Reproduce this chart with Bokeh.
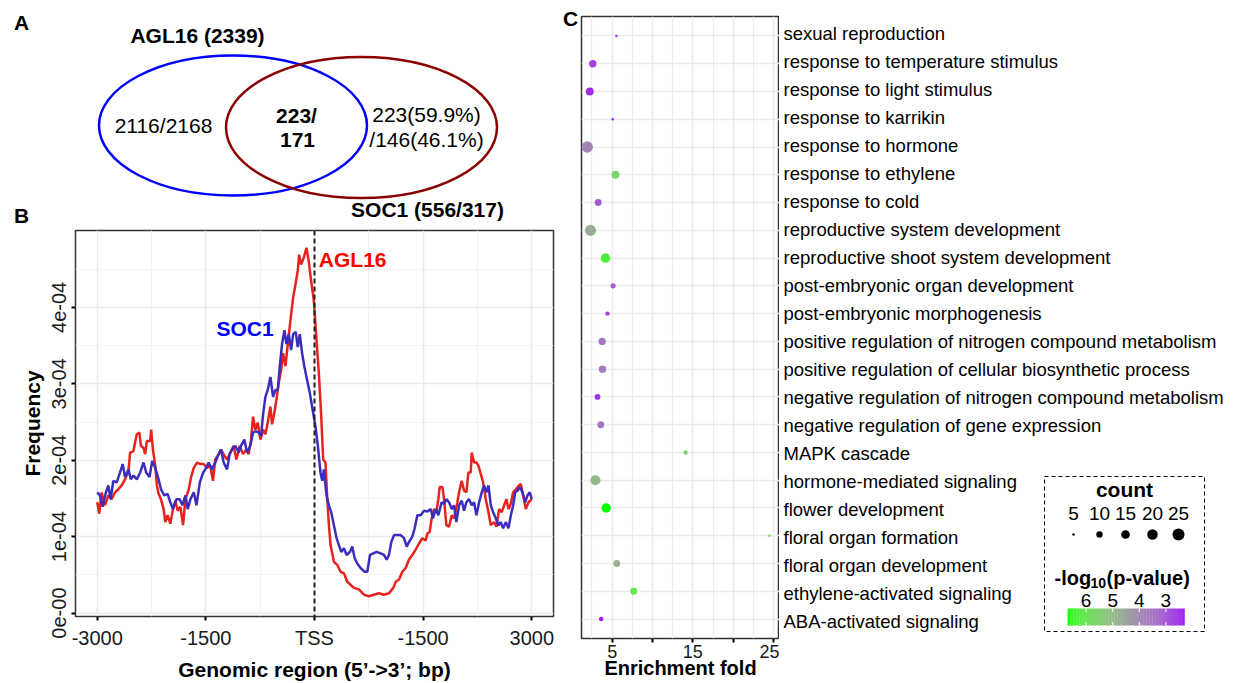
import numpy as np
from bokeh.plotting import figure
from bokeh.layouts import row, column
from bokeh.models import (Range1d, FactorRange, FixedTicker, CustomJSTickFormatter,
                          Span, ColumnDataSource, LinearColorMapper)
from bokeh.transform import transform
from bokeh.core.properties import value
from bokeh.embed import file_html
from bokeh.resources import INLINE

FONT = "Liberation Sans"

# ---------------- Panel A data (Venn) ----------------
venn_set_labels = ["AGL16 (2339)", "SOC1 (556/317)"]
venn_only_agl16 = ["2116/2168"]
venn_shared = ["223/", "171"]
venn_only_soc1 = ["223(59.9%)", "/146(46.1%)"]

# ---------------- Panel B data (frequency profiles, units of 1e-4) ----------------
agl16_x = [-3000, -2972, -2940, -2894, -2847, -2801, -2755, -2708, -2662, -2616,
           -2569, -2546, -2500, -2454, -2417, -2398, -2361, -2338, -2315, -2268,
           -2255, -2231, -2199, -2176, -2153, -2120, -2083, -2060, -2028, -1991,
           -1954, -1921, -1889, -1852, -1815, -1782, -1736, -1704, -1667, -1620,
           -1574,
           -1531, -1485, -1439, -1402, -1370, -1323, -1291, -1245, -1208, -1162,
           -1116, -1079, -1033, -987, -941, -909, -876, -849, -816, -784,
           -747, -710, -678, -646, -609, -586, -554, -526, -494, -461,
           -434, -401, -369, -332, -295, -263, -231, -212, -185, -148,
           -111, -79, -47,
           -9, 28, 60, 93, 120, 152, 176, 199, 222, 268,
           314, 360, 406, 452, 498, 544, 613, 683, 752, 821,
           890, 959, 1028, 1088, 1121, 1167, 1213, 1259, 1305, 1351,
           1397, 1443, 1489,
           1535, 1558, 1590, 1618, 1650, 1683, 1710, 1729, 1766, 1789,
           1821, 1858, 1895, 1927, 1973, 1996, 2033, 2065, 2097, 2125,
           2157, 2171, 2203, 2236, 2263, 2296, 2328, 2365, 2402, 2434,
           2480, 2512, 2549, 2586, 2618, 2651, 2678, 2711, 2743, 2780,
           2826, 2849, 2881, 2918, 2955, 3000]
agl16_freq = [1.45, 1.30, 1.58, 1.41, 1.54, 1.49, 1.58, 1.62, 1.67, 1.75,
              1.86, 2.10, 2.12, 2.34, 2.36, 2.19, 2.16, 2.08, 2.25, 2.25,
              2.40, 2.14, 1.93, 1.67, 1.56, 1.49, 1.36, 1.19, 1.28, 1.17,
              1.36, 1.47, 1.34, 1.39, 1.15, 1.49, 1.62, 1.78, 1.90, 1.97,
              1.95,
              1.95, 1.90, 1.93, 1.73, 2.01, 2.08, 2.14, 2.06, 2.01, 2.10,
              2.19, 2.01, 2.19, 2.08, 2.14, 2.08, 2.27, 2.57, 2.40, 2.49,
              2.27, 2.40, 2.34, 2.49, 2.70, 2.47, 2.62, 2.79, 3.01, 3.18,
              3.40, 3.23, 3.52, 3.83, 4.13, 4.30, 4.48, 4.69, 4.56, 4.65,
              4.78, 4.60, 4.35,
              4.09, 3.57, 3.14, 2.57, 2.01, 1.97, 1.49, 1.15, 0.89, 0.67,
              0.63, 0.54, 0.52, 0.41, 0.37, 0.33, 0.31, 0.24, 0.22, 0.24,
              0.26, 0.24, 0.26, 0.33, 0.41, 0.44, 0.54, 0.59, 0.70, 0.76,
              0.83, 0.91, 0.98,
              0.95, 1.04, 1.06, 1.24, 1.36, 1.32, 1.49, 1.65, 1.65, 1.49,
              1.15, 1.13, 1.28, 1.24, 1.45, 1.58, 1.73, 1.60, 1.58, 1.84,
              1.84, 2.10, 1.97, 1.97, 1.93, 1.82, 1.71, 1.49, 1.32, 1.15,
              1.19, 1.13, 1.36, 1.32, 1.41, 1.49, 1.36, 1.43, 1.58, 1.62,
              1.67, 1.69, 1.54, 1.36, 1.45, 1.49]

soc1_x = [-3000, -2963, -2926, -2880, -2847, -2815, -2778, -2731, -2685, -2648,
          -2616, -2569, -2537, -2500, -2454, -2407, -2361, -2324, -2278, -2241,
          -2199, -2153, -2120, -2074, -2028, -1991, -1954, -1907, -1861, -1824,
          -1782, -1750, -1713, -1667, -1630, -1583, -1537,
          -1508, -1462, -1416, -1370, -1323, -1291, -1254, -1208, -1171, -1139,
          -1093, -1047, -1015, -968, -932, -886, -849, -816, -770, -738,
          -710, -678, -646, -609, -572, -540, -507, -480, -448, -415,
          -388, -355, -323, -295, -259, -231, -203, -171, -139, -102,
          -65, -33,
          14, 46, 83, 106, 129, 166, 199, 231, 268, 305,
          337, 369, 406, 443, 489, 521, 554, 590, 637, 692,
          729, 766, 812, 858, 913, 959, 996, 1028, 1061, 1098,
          1144, 1190, 1236, 1273, 1305, 1351, 1383, 1420, 1466, 1512,
          1559, 1604, 1636, 1673, 1710, 1756, 1789, 1821, 1858, 1895,
          1927, 1959, 1996, 2033, 2065, 2097, 2134, 2171, 2203, 2236,
          2273, 2309, 2342, 2374, 2402, 2434, 2466, 2503, 2540, 2572,
          2605, 2641, 2678, 2711, 2743, 2771, 2803, 2835, 2872, 2909,
          2941, 2973, 3000]
soc1_freq = [1.58, 1.54, 1.39, 1.58, 1.67, 1.49, 1.73, 1.71, 1.84, 1.95,
             1.78, 1.88, 1.75, 1.80, 1.75, 1.84, 1.97, 1.84, 1.78, 1.99,
             1.90, 1.75, 1.62, 1.54, 1.56, 1.45, 1.36, 1.49, 1.49, 1.41,
             1.54, 1.36, 1.49, 1.58, 1.41, 1.71, 1.84,
             1.88, 1.97, 1.88, 1.97, 2.08, 2.14, 1.97, 1.88, 2.08, 2.14,
             2.19, 2.10, 2.19, 2.27, 2.10, 2.19, 2.36, 2.38, 2.36, 2.32,
             2.60, 2.83, 2.92, 3.09, 2.83, 2.92, 2.92, 3.22, 3.52, 3.70,
             3.52, 3.65, 3.44, 3.65, 3.68, 3.48, 3.65, 3.40, 3.22, 3.05,
             2.88, 2.70,
             2.44, 2.19, 1.84, 1.73, 1.88, 1.54, 1.41, 1.32, 1.15, 0.98,
             0.89, 0.80, 0.85, 0.76, 0.80, 0.87, 0.72, 0.65, 0.59, 0.54,
             0.54, 0.76, 0.78, 0.80, 0.78, 0.76, 0.70, 0.76, 0.93, 1.02,
             1.02, 1.02, 0.98, 0.87, 0.93, 1.00, 1.11, 1.28, 1.28, 1.34,
             1.33, 1.36, 1.24, 1.36, 1.28, 1.45, 1.43, 1.49, 1.45, 1.36,
             1.41, 1.19, 1.41, 1.47, 1.34, 1.45, 1.49, 1.41, 1.45, 1.28,
             1.45, 1.58, 1.67, 1.58, 1.67, 1.41, 1.32, 1.24, 1.15, 1.19,
             1.11, 1.19, 1.11, 1.28, 1.41, 1.58, 1.60, 1.65, 1.58, 1.45,
             1.54, 1.58, 1.49]
FREQ_UNIT = 1e-4

b_xticks = [-3000, -1500, 0, 1500, 3000]
b_xtick_labels = ["-3000", "-1500", "TSS", "-1500", "3000"]
b_xminor = [-2250, -750, 750, 2250]
b_yticks = [0.0, 1e-4, 2e-4, 3e-4, 4e-4]
b_ytick_labels = ["0e-00", "1e-04", "2e-04", "3e-04", "4e-04"]
b_yminor = [0.5e-4, 1.5e-4, 2.5e-4, 3.5e-4, 4.5e-4]

# ---------------- Panel C data (GO enrichment) ----------------
go_terms = ["sexual reproduction",
            "response to temperature stimulus",
            "response to light stimulus",
            "response to karrikin",
            "response to hormone",
            "response to ethylene",
            "response to cold",
            "reproductive system development",
            "reproductive shoot system development",
            "post-embryonic organ development",
            "post-embryonic morphogenesis",
            "positive regulation of nitrogen compound metabolism",
            "positive regulation of cellular biosynthetic process",
            "negative regulation of nitrogen compound metabolism",
            "negative regulation of gene expression",
            "MAPK cascade",
            "hormone-mediated signaling",
            "flower development",
            "floral organ formation",
            "floral organ development",
            "ethylene-activated signaling",
            "ABA-activated signaling"]
go_enrichment = [5.53, 2.60, 2.23, 5.07, 1.91, 5.41, 3.27, 2.31, 4.17, 5.12, 4.42,
                 3.76, 3.80, 3.18, 3.59, 14.1, 2.93, 4.26, 24.5, 5.57, 7.67, 3.64]
go_count = [5, 12, 13, 5, 23, 13, 11, 22, 17, 8, 7,
            12, 12, 9, 11, 7, 19, 17, 5, 11, 11, 7]
go_neglogp = [2.5, 2.6, 2.4, 2.4, 3.8, 5.7, 3.0, 4.7, 6.4, 3.1, 2.7,
              3.6, 3.6, 2.5, 3.5, 5.6, 5.0, 6.7, 5.4, 4.8, 6.1, 2.3]
c_xticks = [5, 10, 15, 20, 25]
c_xminor = [2.5, 7.5, 12.5, 17.5, 22.5]
count_breaks = [5, 10, 15, 20, 25]
p_breaks = [6, 5, 4, 3]


# ---------------- helpers (styling) ----------------
def _hex2rgb(h):
    return np.array([int(h[i:i + 2], 16) for i in (1, 3, 5)], dtype=float) / 255.0


_M = np.array([[0.4124564, 0.3575761, 0.1804375],
               [0.2126729, 0.7151522, 0.0721750],
               [0.0193339, 0.1191920, 0.9503041]])
_W = np.array([0.95047, 1.0, 1.08883])


def _to_lab(h):
    c = _hex2rgb(h)
    lin = np.where(c <= 0.04045, c / 12.92, ((c + 0.055) / 1.055) ** 2.4)
    xyz = (_M @ lin) / _W
    d = 6 / 29
    f = np.where(xyz > d ** 3, np.cbrt(xyz), xyz / (3 * d * d) + 4 / 29)
    return np.array([116 * f[1] - 16, 500 * (f[0] - f[1]), 200 * (f[1] - f[2])])


def _from_lab(lab):
    L, a, b = lab
    fy = (L + 16) / 116
    f = np.array([fy + a / 500, fy, fy - b / 200])
    d = 6 / 29
    xyz = np.where(f > d, f ** 3, 3 * d * d * (f - 4 / 29)) * _W
    lin = np.clip(np.linalg.solve(_M, xyz), 0, 1)
    c = np.where(lin <= 0.0031308, 12.92 * lin, 1.055 * lin ** (1 / 2.4) - 0.055)
    c = np.clip(c, 0, 1)
    return "#%02x%02x%02x" % tuple(int(round(v * 255)) for v in c)


_lab_lo, _lab_hi = _to_lab("#A020F0"), _to_lab("#00FF00")
palette = [_from_lab(_lab_lo + (_lab_hi - _lab_lo) * t) for t in np.linspace(0, 1, 256)]
p_lo, p_hi = min(go_neglogp), max(go_neglogp)
mapper = LinearColorMapper(palette=palette, low=p_lo, high=p_hi)


def dot_size(c):
    return np.sqrt(np.maximum(6.89 * np.asarray(c, dtype=float) - 28.2, 4.0))


def style_axis(ax, label_size, title_size):
    ax.axis_line_color = None
    ax.major_tick_line_color = "black"
    ax.major_tick_line_width = 2
    ax.major_tick_in = 0
    ax.major_tick_out = 4
    ax.minor_tick_line_color = None
    ax.major_label_text_font = FONT
    ax.major_label_text_font_size = label_size
    ax.major_label_text_color = "#1a1a1a"
    ax.axis_label_text_font = FONT
    ax.axis_label_text_font_size = title_size
    ax.axis_label_text_font_style = "bold"
    ax.axis_label_text_color = "black"


def txt(p, x, y, s, size, bold=False, color="black", align="center", **kw):
    p.text(x=x, y=y, text=s, text_font=value(FONT), text_font_size=size,
           text_font_style="bold" if bold else "normal", text_color=color,
           text_align=align, text_baseline="middle", **kw)


def no_align(p):
    if "frame_align" in p.properties():
        p.frame_align = False


# ---------------- Panel A ----------------
pA = figure(width=578, height=226, x_range=Range1d(0, 578), y_range=Range1d(226, 0),
            x_axis_type=None, y_axis_type=None, min_border=0,
            output_backend="svg", toolbar_location=None)
pA.outline_line_color = None
no_align(pA)
pA.ellipse(x=[232.5, 361], y=[125, 127], width=[268, 271], height=[140, 141],
           fill_color=None, line_color=["#0000ff", "#8b0000"], line_width=2.5)
txt(pA, [21], [22], ["A"], "21px", bold=True)
txt(pA, [21], [215], ["B"], "21px", bold=True)
txt(pA, [570], [18], ["C"], "21px", bold=True)
txt(pA, [197, 427], [35, 209], venn_set_labels, "21px", bold=True)
txt(pA, [163], [125], venn_only_agl16, "21px")
txt(pA, [296, 297], [115, 139], venn_shared, "21px", bold=True)
txt(pA, [426, 426], [114, 139], venn_only_soc1, "21px")

# ---------------- Panel B ----------------
pB = figure(width=578, height=457, x_range=Range1d(-3300, 3300),
            y_range=Range1d(-0.045e-4, 5.006e-4),
            min_border_left=75, min_border_right=25, min_border_top=4, min_border_bottom=63,
            output_backend="svg", toolbar_location=None)
no_align(pB)
pB.outline_line_color = "#333333"
pB.outline_line_width = 1.5
xt = FixedTicker(ticks=b_xticks, minor_ticks=b_xminor)
yt = FixedTicker(ticks=b_yticks, minor_ticks=b_yminor)
pB.xaxis.ticker = xt
pB.yaxis.ticker = yt
pB.xgrid.ticker = xt
pB.ygrid.ticker = yt
pB.xaxis.major_label_overrides = dict(zip(b_xticks, b_xtick_labels))
pB.yaxis.formatter = CustomJSTickFormatter(
    args=dict(labels=b_ytick_labels),
    code="const i = Math.round(tick * 1e4); return (i >= 0 && i < labels.length) ? labels[i] : '';")
for g in (pB.xgrid[0], pB.ygrid[0]):
    g.grid_line_color = "#ebebeb"
    g.grid_line_width = 1.5
    g.minor_grid_line_color = "#f3f3f3"
    g.minor_grid_line_width = 1
style_axis(pB.xaxis[0], "20px", "21px")
style_axis(pB.yaxis[0], "20px", "21px")
pB.xaxis.axis_label = "Genomic region (5\u2019->3\u2019; bp)"
pB.yaxis.axis_label = "Frequency"
pB.yaxis.major_label_orientation = "vertical"
pB.xaxis.major_label_standoff = 6
pB.yaxis.major_label_standoff = 5
pB.xaxis.axis_label_standoff = 6
pB.yaxis.axis_label_standoff = 6

pB.line(agl16_x, np.array(agl16_freq) * FREQ_UNIT, line_color="#e8231d", line_width=2.5)
pB.line(soc1_x, np.array(soc1_freq) * FREQ_UNIT, line_color="#3b2ebf", line_width=2.5)
pB.add_layout(Span(location=0, dimension="height", line_color="#222222",
                   line_dash="5 3", line_width=2))
txt(pB, [-958], [3.72e-4], ["SOC1"], "21px", bold=True, color="#0000ff")
txt(pB, [60], [4.63e-4], ["AGL16"], "21px", bold=True, color="#ff0000", align="left")

# ---------------- Panel C ----------------
MBT, MBB = 16, 45
N_TERMS = len(go_terms)
PAD = 0.2
yr = FactorRange(factors=go_terms[::-1], range_padding=PAD,
                 range_padding_units="absolute", factor_padding=0)
pC = figure(width=201, height=683, x_range=Range1d(1.2, 25.74), y_range=yr,
            y_axis_location=None,
            min_border_left=3, min_border_right=0, min_border_top=MBT, min_border_bottom=MBB,
            output_backend="svg", toolbar_location=None)
pC.outline_line_color = "#333333"
pC.outline_line_width = 1.5
ct = FixedTicker(ticks=c_xticks, minor_ticks=c_xminor)
pC.xaxis.ticker = ct
pC.xgrid.ticker = ct
pC.xaxis.formatter = CustomJSTickFormatter(
    code="return (tick == 10 || tick == 20) ? '' : tick.toFixed(0);")
for g in (pC.xgrid[0], pC.ygrid[0]):
    g.grid_line_color = "#ebebeb"
    g.grid_line_width = 1.5
pC.xgrid.minor_grid_line_color = "#ebebeb"
pC.xgrid.minor_grid_line_width = 1.2
style_axis(pC.xaxis[0], "18px", "20px")
pC.xaxis.axis_label = "Enrichment fold"
pC.xaxis.major_label_standoff = 2
pC.xaxis.axis_label_standoff = -4

src = ColumnDataSource(dict(term=go_terms, enrich=go_enrichment,
                            size=dot_size(go_count), nlp=go_neglogp,
                            pos=[N_TERMS - 0.5 - i for i in range(N_TERMS)]))
pC.scatter("enrich", "term", size="size", source=src,
           fill_color=transform("nlp", mapper), line_color=None)

# ---------------- Panel C labels + legends ----------------
FRAME_BOTTOM = 683 - MBB
pL = figure(width=457, height=683, x_range=Range1d(779, 1236),
            y_range=Range1d(-PAD / 2, N_TERMS + PAD / 2),
            x_axis_type=None, y_axis_type=None,
            min_border_left=0, min_border_right=0, min_border_top=MBT, min_border_bottom=MBB,
            output_backend="svg", toolbar_location=None)
pL.outline_line_color = None
pL.extra_y_ranges = {"px": Range1d(FRAME_BOTTOM, MBT)}
pL.text(x=783, y="pos", text="term", source=src, text_font=value(FONT),
        text_font_size="18.5px", text_color="black", text_align="left",
        text_baseline="middle")

# legend box
pL.quad(left=[1044], right=[1204], top=[476], bottom=[631],
        fill_color=None, line_color="black", line_dash="4 3", line_width=1,
        y_range_name="px")
# size legend
leg_x = [1073, 1099, 1125, 1152, 1178]
txt(pL, [1124], [489], ["count"], "21px", bold=True, y_range_name="px")
txt(pL, leg_x, [513] * 5, [str(c) for c in count_breaks], "19px", y_range_name="px")
pL.scatter(leg_x, [534] * 5, size=dot_size(count_breaks), fill_color="black",
           line_color=None, y_range_name="px")
# colour legend
txt(pL, [1054], [577], ["-log"], "20px", bold=True, align="left", y_range_name="px")
txt(pL, [1090], [582], ["10"], "14px", bold=True, align="left", y_range_name="px")
txt(pL, [1106], [577], ["(p-value)"], "20px", bold=True, align="left", y_range_name="px")
CB_L, CB_R, CB_T, CB_B = 1067, 1184, 608, 625
nb = 40
edges = np.linspace(CB_L, CB_R, nb + 1)
vals = p_hi - (np.arange(nb) + 0.5) / nb * (p_hi - p_lo)
cb_src = ColumnDataSource(dict(l=edges[:-1], r=edges[1:] + 0.3, v=vals))
pL.quad(left="l", right="r", top=CB_T, bottom=CB_B, source=cb_src,
        fill_color=transform("v", mapper), line_color=None, y_range_name="px")
bx = [CB_L + (p_hi - b) / (p_hi - p_lo) * (CB_R - CB_L) for b in p_breaks]
pL.segment(x0=bx, x1=bx, y0=[CB_T] * 4, y1=[CB_T + 3.5] * 4, line_color="white",
           line_width=1, y_range_name="px")
pL.segment(x0=bx, x1=bx, y0=[CB_B - 3.5] * 4, y1=[CB_B] * 4, line_color="white",
           line_width=1, y_range_name="px")
txt(pL, bx, [600] * 4, [str(b) for b in p_breaks], "19px", y_range_name="px")

layout = row(column(pA, pB), pC, pL)
open("out.html", "w").write(file_html(layout, INLINE))
